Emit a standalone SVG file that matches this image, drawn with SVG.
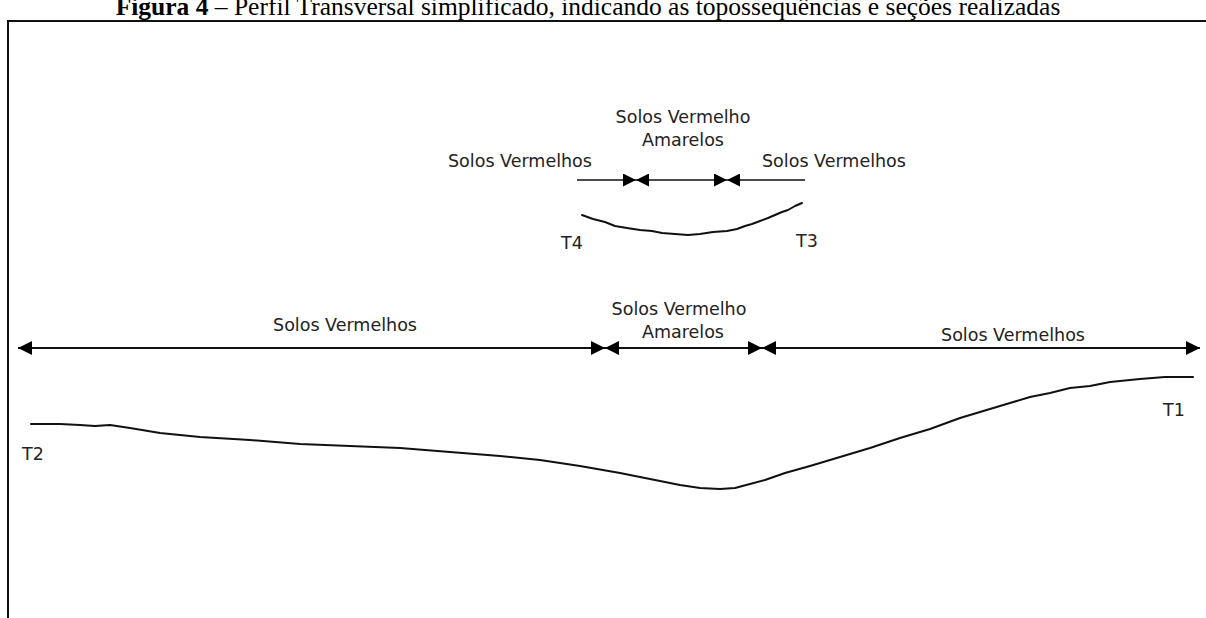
<svg xmlns="http://www.w3.org/2000/svg" width="1206" height="618" viewBox="0 0 1206 618">
<style>
.lbl{font-family:"DejaVu Sans",Verdana,sans-serif;font-size:17.5px;fill:#222}
.ttl{font-family:"Liberation Serif","Times New Roman",serif;font-size:25.5px;fill:#000}
.ln{stroke:#111;fill:none}
.crv{stroke:#111;fill:none;stroke-width:2;stroke-linejoin:round;stroke-linecap:round}
</style>
<defs>
<marker id="ah" viewBox="0 0 10 10" refX="10" refY="5" markerUnits="userSpaceOnUse" markerWidth="15" markerHeight="14" orient="auto-start-reverse">
<path d="M0,0 L10,5 L0,10 z" fill="#000"/>
</marker>
<marker id="ahs" viewBox="0 0 10 10" refX="10" refY="5" markerUnits="userSpaceOnUse" markerWidth="13" markerHeight="13" orient="auto-start-reverse">
<path d="M0,0 L10,5 L0,10 z" fill="#000"/>
</marker>
</defs>
<rect width="1206" height="618" fill="#fff"/>
<text class="ttl" x="588" y="15" text-anchor="middle"><tspan font-weight="bold">Figura 4</tspan> – Perfil Transversal simplificado, indicando as topossequências e seções realizadas</text>
<path d="M8,622 L8,21 L1210,21" fill="none" stroke="#111" stroke-width="2"/>

<g id="upper-section">
<text class="lbl" x="683" y="123" text-anchor="middle">Solos Vermelho</text>
<text class="lbl" x="683" y="146" text-anchor="middle">Amarelos</text>
<text class="lbl" x="448" y="167">Solos Vermelhos</text>
<text class="lbl" x="762" y="167">Solos Vermelhos</text>
<path class="crv" d="M582,215 L593,219 L605,222 L615,226 L627,228 L640,230 L652,231 L662,233 L675,234 L688,235 L700,234 L713,232 L727,231 L737,229 L745,226 L752,224 L760,221 L768,218 L775,215 L782,212 L788,210 L795,206 L802,203"/>
<text class="lbl" x="561" y="249">T4</text>
<text class="lbl" x="796" y="247">T3</text>
</g>

<g id="lower-section">
<text class="lbl" x="345" y="331" text-anchor="middle">Solos Vermelhos</text>
<text class="lbl" x="679" y="315" text-anchor="middle">Solos Vermelho</text>
<text class="lbl" x="683" y="338" text-anchor="middle">Amarelos</text>
<text class="lbl" x="1013" y="341" text-anchor="middle">Solos Vermelhos</text>
<path class="crv" d="M31,424 L60,424 L80,425 L95,426 L110,425 L130,428 L160,433 L200,437 L250,440 L300,444 L350,446 L400,448 L450,452 L500,456 L540,460 L580,466 L620,473 L650,479 L680,485 L700,488 L720,489 L735,488 L750,484 L765,480 L785,473 L810,466 L840,457 L870,448 L900,438 L930,429 L960,418 L990,409 L1010,403 L1030,397 L1050,393 L1070,388 L1090,386 L1110,382 L1140,379 L1165,377 L1193,377"/>
<text class="lbl" x="22" y="460">T2</text>
<text class="lbl" x="1163" y="416">T1</text>
</g>

<g id="connectors">
<line class="ln" x1="18" y1="348" x2="605" y2="348" stroke-width="2" marker-start="url(#ah)" marker-end="url(#ah)"/>
<line class="ln" x1="605" y1="348" x2="762" y2="348" stroke-width="2" marker-start="url(#ah)" marker-end="url(#ah)"/>
<line class="ln" x1="762" y1="348" x2="1200" y2="348" stroke-width="2" marker-start="url(#ah)" marker-end="url(#ah)"/>
<line class="ln" x1="577" y1="180" x2="636" y2="180" stroke-width="1.5" marker-end="url(#ahs)"/>
<line class="ln" x1="636" y1="180" x2="727" y2="180" stroke-width="1.5" marker-start="url(#ahs)" marker-end="url(#ahs)"/>
<line class="ln" x1="727" y1="180" x2="805" y2="180" stroke-width="1.5" marker-start="url(#ahs)"/>
</g>
</svg>
